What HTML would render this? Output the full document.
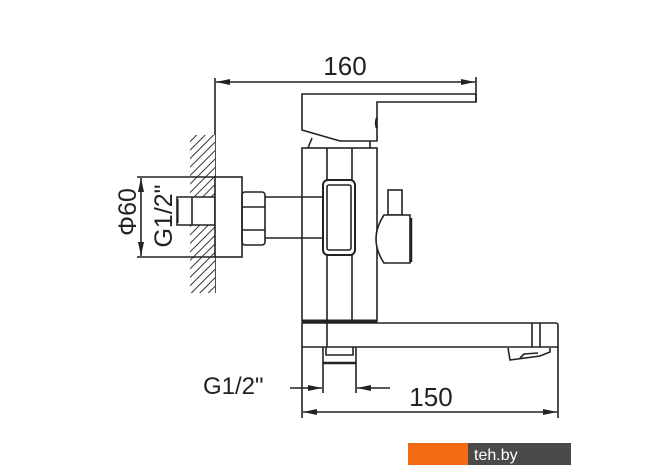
<!DOCTYPE html>
<html><head><style>
html,body{margin:0;padding:0;background:#fff;}
svg{display:block;}
text{font-family:"Liberation Sans",Arial,sans-serif;fill:#222;}
</style></head><body>
<svg width="670" height="471" viewBox="0 0 670 471" xmlns="http://www.w3.org/2000/svg">
<defs>
<pattern id="h" patternUnits="userSpaceOnUse" width="6" height="6" patternTransform="rotate(45)">
<rect width="6" height="6" fill="#fff"/><line x1="0" y1="0" x2="0" y2="6" stroke="#333" stroke-width="2"/>
</pattern>
<marker id="a" markerWidth="14" markerHeight="8" refX="14" refY="4" orient="auto-start-reverse" markerUnits="userSpaceOnUse">
<path d="M0,1 L14,4 L0,7 Z" fill="#222"/></marker>
</defs>
<g stroke="#222" stroke-width="1.6" fill="none">
<!-- top dim -->
<line x1="215" y1="78" x2="215" y2="293"/>
<line x1="476" y1="77" x2="476" y2="102"/>
<line x1="216" y1="82" x2="475" y2="82" marker-end="url(#a)" marker-start="url(#a)"/>
<!-- wall -->
<path d="M190,135 L215,135 L215,197 L190,197 Z" fill="url(#h)" stroke="none"/>
<path d="M190,225 L215,225 L215,293 L190,293 Z" fill="url(#h)" stroke="none"/>
<!-- flange & stub -->
<rect x="215" y="177" width="27" height="80" fill="#fff"/>
<path d="M215,197 L177,197 L177,225 L215,225"/>
<line x1="192" y1="197" x2="192" y2="225"/>
<!-- left dims -->
<line x1="137" y1="177" x2="215" y2="177"/>
<line x1="137" y1="257" x2="215" y2="257"/>
<line x1="141" y1="178" x2="141" y2="256" marker-end="url(#a)" marker-start="url(#a)"/>
<line x1="178" y1="199" x2="178" y2="223" stroke-width="1.2"/>
<!-- hex nut -->
<rect x="242" y="192" width="23" height="53" rx="3"/>
<line x1="242" y1="207" x2="265" y2="207"/>
<line x1="242" y1="230" x2="265" y2="230"/>
<!-- pipe -->
<path d="M265,197 L323,197 M265,238 L323,238"/>
<!-- handle -->
<path d="M302,94 L476,94 L476,102 L377,102 L377,141 L340,141 L302,130 Z"/>
<path d="M377,118 q-2,5 0,10" stroke-width="2.4"/>
<path d="M308,148 L312,138 M370,141 L370,148"/>
<!-- body -->
<rect x="302" y="148" width="75" height="173"/>
<line x1="327" y1="148" x2="327" y2="347"/>
<line x1="352" y1="148" x2="352" y2="321"/>
<rect x="323" y="180" width="32" height="75" rx="5" fill="#fff" stroke-width="2"/>
<rect x="327" y="185" width="24" height="65" rx="2"/>
<!-- knob -->
<rect x="388" y="190" width="14" height="25"/>
<path d="M384,215 L410,215 L410,263 L384,263 Q368,239 384,215 Z" fill="#fff"/>
<line x1="411" y1="218" x2="411" y2="262" stroke-width="2.5"/>
<!-- spout -->
<line x1="302" y1="321" x2="377" y2="321" stroke-width="3"/>
<path d="M302,323 L556,323 Q558,323 558,326 L558,347 L302,347 Z"/>
<line x1="532" y1="323" x2="532" y2="347"/>
<line x1="540" y1="323" x2="540" y2="347"/>
<path d="M508,348 L510,360 L540,356 L550,352 L550,348"/>
<path d="M520,358 L524,354 L538,353"/>
<!-- outlet -->
<path d="M323,347 L323,393 M356,347 L356,393"/>
<path d="M326,347 L326,355 L353,355 L353,347"/>
<line x1="323" y1="363" x2="356" y2="363" stroke-width="2.5"/>
<!-- bottom dims -->
<line x1="290" y1="388" x2="322" y2="388" marker-end="url(#a)"/>
<line x1="390" y1="388" x2="357" y2="388" marker-end="url(#a)"/>
<line x1="302" y1="347" x2="302" y2="418"/>
<line x1="558" y1="347" x2="558" y2="418"/>
<line x1="303" y1="412" x2="557" y2="412" marker-end="url(#a)" marker-start="url(#a)"/>
</g>
<text x="345" y="75" font-size="26" text-anchor="middle">160</text>
<text x="431" y="406" font-size="26" text-anchor="middle">150</text>
<text x="203" y="394" font-size="24">G1/2"</text>
<text transform="translate(136,212) rotate(-90)" font-size="25" text-anchor="middle">Φ60</text>
<text transform="translate(172,216) rotate(-90)" font-size="25" text-anchor="middle">G1/2"</text>
<rect x="408" y="443" width="60" height="22" fill="#f26a12"/>
<rect x="468" y="443" width="103" height="22" fill="#4a4a4a"/>
<text x="474" y="460" font-size="16" style="fill:#fff">teh.by</text>
</svg>
</body></html>
